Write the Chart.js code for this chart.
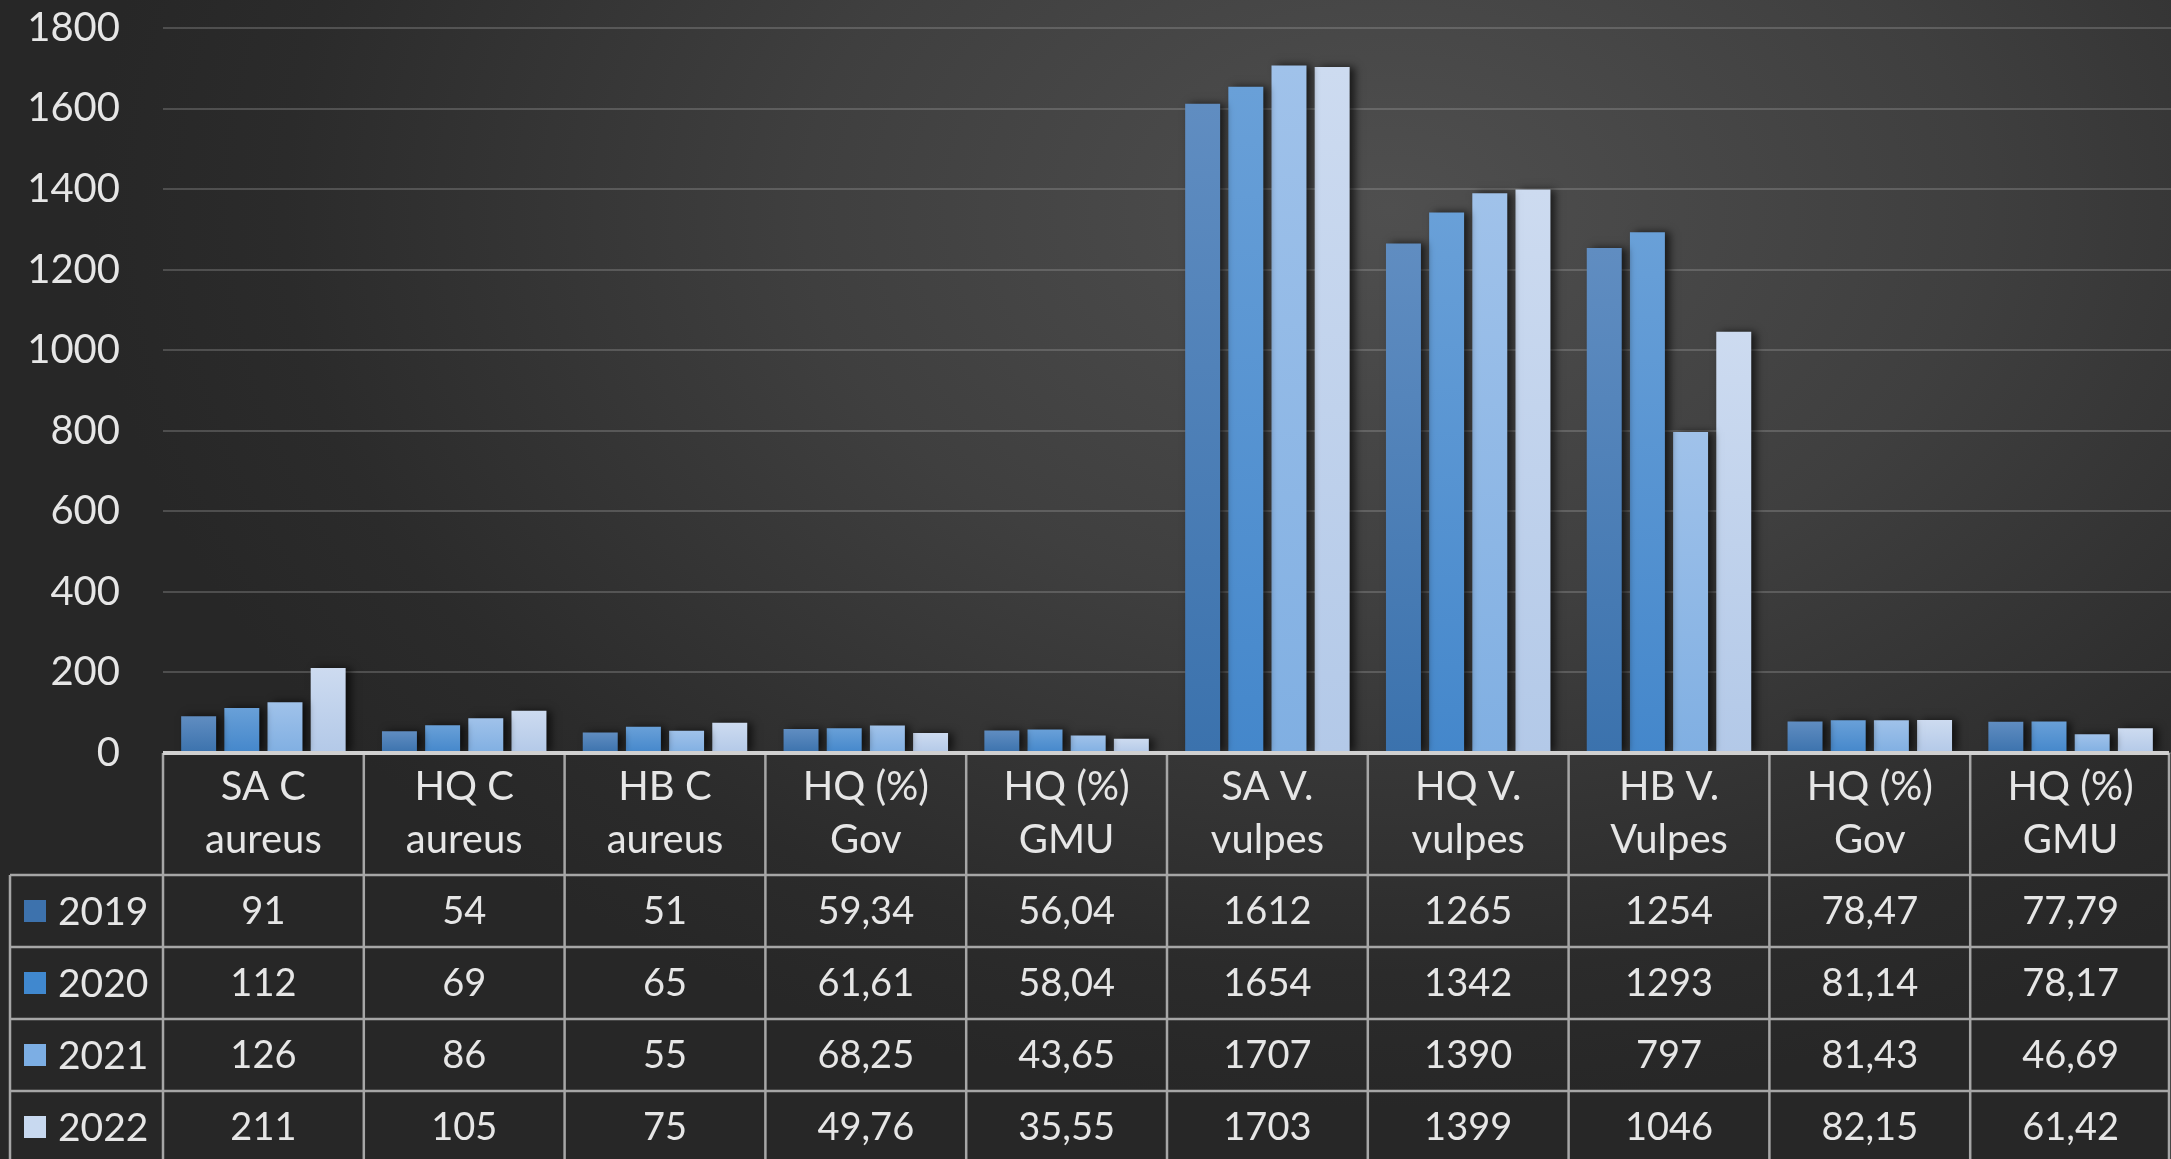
<!DOCTYPE html>
<html>
<head>
<meta charset="utf-8">
<script src="https://cdn.jsdelivr.net/npm/chart.js@4/dist/chart.umd.min.js"></script>
<style>
  html, body { margin: 0; padding: 0; }
  body {
    width: 2171px; height: 1159px; overflow: hidden;
    background: radial-gradient(ellipse 1300px 900px at 64% 18%, #4f4f4f 0%, #3f3f3f 45%, #2b2b2b 85%, #272727 100%);
  }
  #wrap { position: relative; width: 2171px; height: 1159px; }
</style>
</head>
<body>
<div id="wrap"><canvas id="myChart"></canvas></div>
<script>
const categories = [
  ["SA C", "aureus"], ["HQ C", "aureus"], ["HB C", "aureus"],
  ["HQ (%)", "Gov"], ["HQ (%)", "GMU"],
  ["SA V.", "vulpes"], ["HQ V.", "vulpes"], ["HB V.", "Vulpes"],
  ["HQ (%)", "Gov"], ["HQ (%)", "GMU"]
];
const years = ["2019", "2020", "2021", "2022"];

const values2019 = [91, 54, 51, 59.34, 56.04, 1612, 1265, 1254, 78.47, 77.79];
const values2020 = [112, 69, 65, 61.61, 58.04, 1654, 1342, 1293, 81.14, 78.17];
const values2021 = [126, 86, 55, 68.25, 43.65, 1707, 1390, 797, 81.43, 46.69];
const values2022 = [211, 105, 75, 49.76, 35.55, 1703, 1399, 1046, 82.15, 61.42];

const yTicks = [0, 200, 400, 600, 800, 1000, 1200, 1400, 1600, 1800];

// colours of each year: legend swatch, top and bottom of the bar gradient
const swatch = ["#3d72ad", "#4088cf", "#7caee4", "#c8d9f0"];
const topCol = ["#608dc1", "#69a0d8", "#a0c2ea", "#cddbf0"];
const botCol = ["#3b72ad", "#4487cb", "#80afe2", "#b3c9e8"];

const allValues = [values2019, values2020, values2021, values2022];

const fmt = (v) => Number.isInteger(v) ? String(v) : v.toFixed(2).replace(".", ",");

const barFill = (i) => (c) => {
  const chart = c.chart;
  if (!chart.chartArea || c.type !== "data" || !chart.scales.y) return swatch[i];
  const top = chart.scales.y.getPixelForValue(c.parsed.y);
  const bottom = chart.scales.y.getPixelForValue(0);
  if (!isFinite(top) || bottom - top < 1) return swatch[i];
  const g = chart.ctx.createLinearGradient(0, top, 0, bottom);
  g.addColorStop(0, topCol[i]);
  g.addColorStop(1, botCol[i]);
  return g;
};

const HEADER_H = 122;
const ROW_H = 72;

// shadow behind the bars
const barShadow = {
  id: "barShadow",
  beforeDatasetsDraw(chart) {
    const ctx = chart.ctx;
    ctx.save();
    ctx.shadowColor = "rgba(0,0,0,0.65)";
    ctx.shadowBlur = 8;
    ctx.shadowOffsetX = 5;
    ctx.shadowOffsetY = 0;
  },
  afterDatasetsDraw(chart) {
    chart.ctx.restore();
  }
};

// data table under the x axis
const dataTable = {
  id: "dataTable",
  afterDraw(chart) {
    const ctx = chart.ctx;
    const area = chart.chartArea;
    const x = chart.scales.x;
    const n = categories.length;
    const colW = (area.right - area.left) / n;
    const top = area.bottom;
    const rowsTop = top + HEADER_H;
    const tableLeft = 10;
    const right = chart.width - 2;

    ctx.save();
    ctx.strokeStyle = "#a6a6a6";
    ctx.lineWidth = 2.5;
    ctx.beginPath();
    for (let i = 0; i <= n; i++) {
      let xx = Math.min(area.left + i * colW, right);
      ctx.moveTo(xx, top);
      ctx.lineTo(xx, chart.height);
    }
    for (let r = 0; r < years.length; r++) {
      const yy = rowsTop + r * ROW_H;
      ctx.moveTo(tableLeft, yy);
      ctx.lineTo(right, yy);
    }
    ctx.moveTo(tableLeft, rowsTop);
    ctx.lineTo(tableLeft, chart.height);
    ctx.stroke();

    // axis line
    ctx.strokeStyle = "#d0d0d0";
    ctx.lineWidth = 4;
    ctx.beginPath();
    ctx.moveTo(area.left, top);
    ctx.lineTo(right, top);
    ctx.stroke();

    ctx.textBaseline = "middle";
    for (let r = 0; r < years.length; r++) {
      const cy = rowsTop + r * ROW_H + ROW_H / 2;
      ctx.fillStyle = swatch[r];
      ctx.fillRect(24, cy - 11, 22, 22);
      ctx.fillStyle = "#e6e6e6";
      ctx.font = "39px Lato";
      ctx.textAlign = "left";
      ctx.fillText(years[r], 58, cy + 1);
      ctx.font = "38px Lato";
      ctx.textAlign = "center";
      allValues[r].forEach((v, i) => {
        ctx.fillText(fmt(v), x.getPixelForValue(i), cy + 1);
      });
    }
    ctx.restore();
  }
};

const ctx = document.getElementById("myChart").getContext("2d");
const myChart = new Chart(ctx, {
  type: "bar",
  data: {
    labels: categories,
    datasets: years.map((y, i) => ({
      label: y,
      data: allValues[i],
      backgroundColor: barFill(i),
      borderWidth: 0,
      categoryPercentage: 0.86,
      barPercentage: 0.81
    }))
  },
  options: {
    responsive: true,
    maintainAspectRatio: false,
    animation: false,
    layout: { padding: { top: 0, right: 0, left: 0, bottom: 0 } },
    plugins: {
      legend: { display: false },
      tooltip: { enabled: false }
    },
    scales: {
      x: {
        grid: { display: false, drawTicks: false },
        border: { display: false },
        ticks: {
          color: "#e6e6e6",
          font: { family: "Lato", size: 40, lineHeight: 1.32 },
          padding: 8,
          maxRotation: 0,
          autoSkip: false
        },
        afterFit(scale) { scale.height = 406; }
      },
      y: {
        min: 0,
        max: 1800,
        afterBuildTicks(scale) { scale.ticks = yTicks.map(v => ({ value: v })); },
        grid: { color: "rgba(170,170,170,0.3)", lineWidth: 2, drawTicks: false },
        border: { display: false },
        ticks: {
          color: "#e6e6e6",
          font: { family: "Lato", size: 40 },
          padding: 43,
          callback: (v) => String(v)
        },
        afterFit(scale) {
          scale.width = 163;
          scale.paddingTop = 28;
          scale.paddingBottom = 0;
        }
      }
    }
  },
  plugins: [barShadow, dataTable]
});
</script>
</body>
</html>
